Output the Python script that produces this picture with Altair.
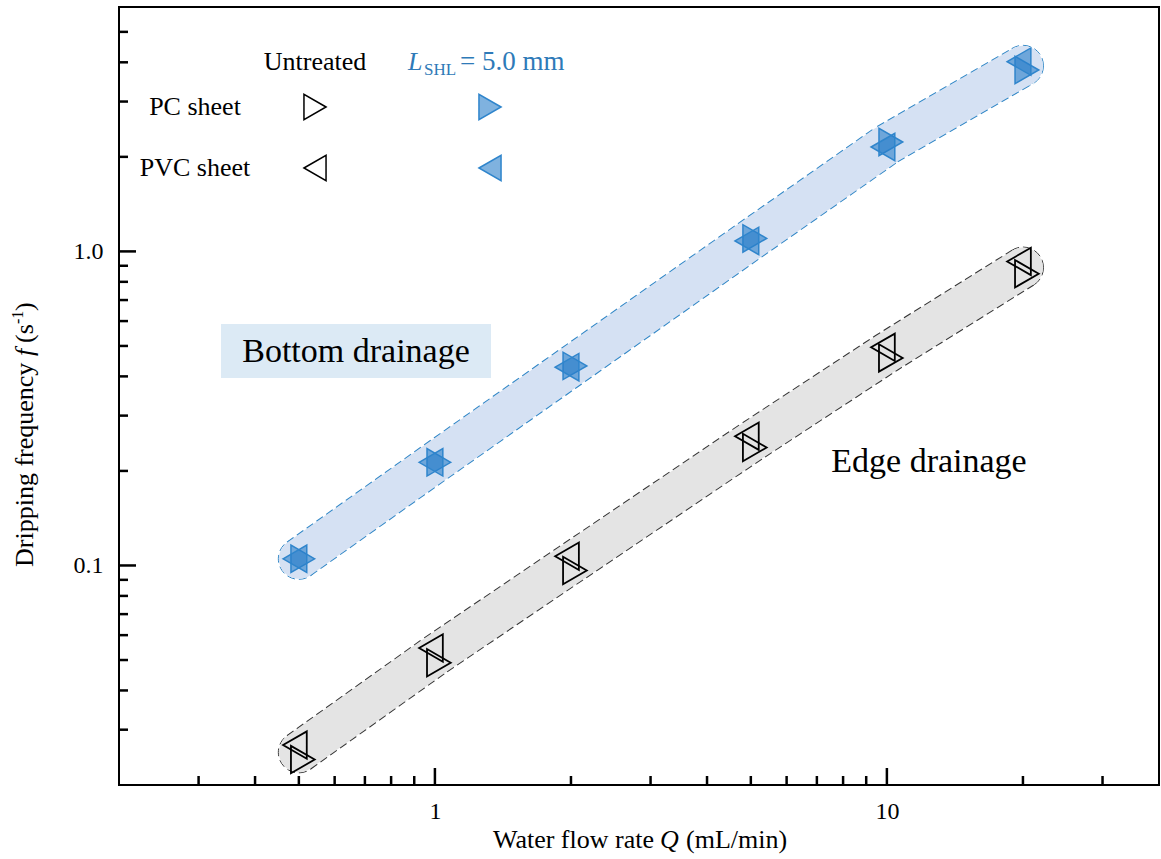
import altair as alt
import pandas as pd

# ---------------- data ----------------
Q = [0.5, 1, 2, 5, 10, 20]
pc_untreated = [0.0241, 0.049, 0.0964, 0.2375, 0.458, 0.849]
pvc_untreated = [0.0268, 0.0546, 0.107, 0.258, 0.495, 0.929]
pc_treated = [0.105, 0.213, 0.432, 1.10, 2.23, 3.78]
pvc_treated = [0.105, 0.213, 0.428, 1.08, 2.15, 4.02]

x_major = [1, 10]
x_minor = [0.3, 0.4, 0.5, 0.6, 0.7, 0.8, 0.9, 2, 3, 4, 5, 6, 7, 8, 9, 20, 30]
y_major = [0.1, 1]
y_minor = [0.03, 0.04, 0.05, 0.06, 0.07, 0.08, 0.09,
           0.2, 0.3, 0.4, 0.5, 0.6, 0.7, 0.8, 0.9, 2, 3, 4, 5]

# ---------------- styling ----------------
FONT = "Liberation Serif"
PW, PH = 1040, 778
BAND_W = 40
BLUE_FILL = "#d5e1f3"
BLUE_EDGE = "#2f86c6"
GREY_FILL = "#e4e4e4"
GREY_EDGE = "#333333"
MK_BLUE = "#2a7fc9"
MK_BLUE_EDGE = "#2f85cc"
TXT_BLUE = "#2e7ab8"
MK_SIZE = 750
# shift so that each triangle is centred on its centroid (Vega centres the bounding box)
TRI_SHIFT = 0.866 * MK_SIZE ** 0.5 / 6

xs = alt.Scale(type="log", domain=[0.2, 40], nice=False)
ys = alt.Scale(type="log", domain=[0.02, 6], nice=False)
xaxis = alt.Axis(values=x_major, format="~g", labelFont=FONT, labelFontSize=24,
                 labelColor="black", domain=False, grid=False, ticks=True,
                 tickSize=0, tickOpacity=0, labelPadding=14)
yaxis = alt.Axis(values=y_major, format=".1f", labelFont=FONT, labelFontSize=24,
                 labelColor="black", domain=False, grid=False, ticks=True,
                 tickSize=0, tickOpacity=0, labelPadding=16)
X = alt.X("Q:Q", scale=xs, axis=xaxis, title="")
Y = alt.Y("f:Q", scale=ys, axis=yaxis, title="")

dummy = pd.DataFrame({"a": [0]})


def band(pc, pvc, fill, edge):
    centre = [(a * b) ** 0.5 for a, b in zip(pc, pvc)]
    df = pd.DataFrame({"Q": Q, "f": centre})
    ends = alt.Chart(df.iloc[[0, len(df) - 1]]).mark_point(
        shape="circle", size=(BAND_W + 1) ** 2, filled=False, stroke=edge,
        strokeWidth=1, strokeDash=[8, 4], opacity=1).encode(x=X, y=Y)
    rim = alt.Chart(df).mark_line(
        stroke=edge, strokeWidth=BAND_W + 2, strokeDash=[8, 4],
        strokeCap="butt", strokeJoin="round").encode(x=X, y=Y)
    body = alt.Chart(df).mark_line(
        stroke=fill, strokeWidth=BAND_W, strokeCap="round",
        strokeJoin="round").encode(x=X, y=Y)
    return [ends, rim, body]


def pts(vals, shape, treated):
    df = pd.DataFrame({"Q": Q, "f": vals})
    shift = TRI_SHIFT if shape == "triangle-right" else -TRI_SHIFT
    if treated:
        m = alt.Chart(df).mark_point(shape=shape, size=MK_SIZE, filled=True,
                                     fill=MK_BLUE, fillOpacity=0.6, xOffset=shift,
                                     stroke=MK_BLUE_EDGE, strokeWidth=1.5, opacity=1)
    else:
        m = alt.Chart(df).mark_point(shape=shape, size=MK_SIZE, filled=False,
                                     xOffset=shift,
                                     stroke="black", strokeWidth=1.8, opacity=1)
    return m.encode(x=X, y=Y)


def legend_mark(x, y, shape, treated):
    if treated:
        m = alt.Chart(dummy).mark_point(shape=shape, size=650, filled=True,
                                        fill=MK_BLUE, fillOpacity=0.6,
                                        stroke=MK_BLUE_EDGE, strokeWidth=1.5, opacity=1)
    else:
        m = alt.Chart(dummy).mark_point(shape=shape, size=650, filled=False,
                                        stroke="black", strokeWidth=1.5, opacity=1)
    return m.encode(x=alt.value(x), y=alt.value(y))


def txt(s, x, y, size, italic=False, color="black", align="center", angle=0):
    kw = dict(text=s, font=FONT, fontSize=size, color=color, align=align,
              baseline="middle")
    if italic:
        kw["fontStyle"] = "italic"
    if angle:
        kw["angle"] = angle
    return alt.Chart(dummy).mark_text(**kw).encode(x=alt.value(x), y=alt.value(y))


def ticks(vals, axis, length):
    df = pd.DataFrame({"v": vals})
    c = alt.Chart(df).mark_rule(color="black", strokeWidth=2.5)
    if axis == "x":
        return c.encode(x=alt.X("v:Q", scale=xs, axis=xaxis, title=""),
                        y=alt.value(PH), y2=alt.value(PH - length))
    return c.encode(y=alt.Y("v:Q", scale=ys, axis=yaxis, title=""),
                    x=alt.value(0), x2=alt.value(length))


layers = []
layers += band(pc_untreated, pvc_untreated, GREY_FILL, GREY_EDGE)
layers += band(pc_treated, pvc_treated, BLUE_FILL, BLUE_EDGE)

# "Bottom drainage" box
layers.append(alt.Chart(dummy).mark_rect(color="#dceaf5").encode(
    x=alt.value(102), x2=alt.value(372), y=alt.value(317), y2=alt.value(371)))
layers.append(txt("Bottom drainage", 237, 345, 34))
layers.append(txt("Edge drainage", 810, 455, 34))

# data markers
layers.append(pts(pc_untreated, "triangle-right", False))
layers.append(pts(pvc_untreated, "triangle-left", False))
layers.append(pts(pc_treated, "triangle-right", True))
layers.append(pts(pvc_treated, "triangle-left", True))

# legend
layers.append(txt("Untreated", 196, 55, 26))
layers.append(txt("L", 289, 55, 26, italic=True, color=TXT_BLUE, align="left"))
layers.append(txt("SHL", 305, 63, 17, color=TXT_BLUE, align="left"))
layers.append(txt("= 5.0 mm", 341, 55, 27, color=TXT_BLUE, align="left"))
layers.append(txt("PC sheet", 76, 100, 26))
layers.append(txt("PVC sheet", 76, 161, 26))
layers.append(legend_mark(196, 100, "triangle-right", False))
layers.append(legend_mark(196, 161, "triangle-left", False))
layers.append(legend_mark(371, 100, "triangle-right", True))
layers.append(legend_mark(371, 161, "triangle-left", True))

# axis ticks (inward)
layers.append(ticks(x_major, "x", 17))
layers.append(ticks(x_minor, "x", 9))
layers.append(ticks(y_major, "y", 17))
layers.append(ticks(y_minor, "y", 9))

# x-axis title
layers.append(txt("Water flow rate", 535, 833, 26, align="right"))
layers.append(txt("Q", 541, 833, 26, italic=True, align="left"))
layers.append(txt("(mL/min)", 567, 833, 26, align="left"))

# y-axis title (rotated)
layers.append(txt("Dripping frequency", -94, 560, 26, align="left", angle=270))
layers.append(txt("f", -94, 349, 26, italic=True, align="left", angle=270))
layers.append(txt("(s", -94, 336, 26, align="left", angle=270))
layers.append(txt("-1", -101, 317, 16, align="left", angle=270))
layers.append(txt(")", -94, 304, 26, align="left", angle=270))

chart = alt.layer(*layers).properties(
    width=PW, height=PH,
    padding={"left": 119, "top": 7, "right": 2, "bottom": 74},
    autosize="none",
    background="white",
).configure_view(stroke="black", strokeWidth=2)

chart.save("out.html", embed_options={"renderer": "svg", "actions": False})
